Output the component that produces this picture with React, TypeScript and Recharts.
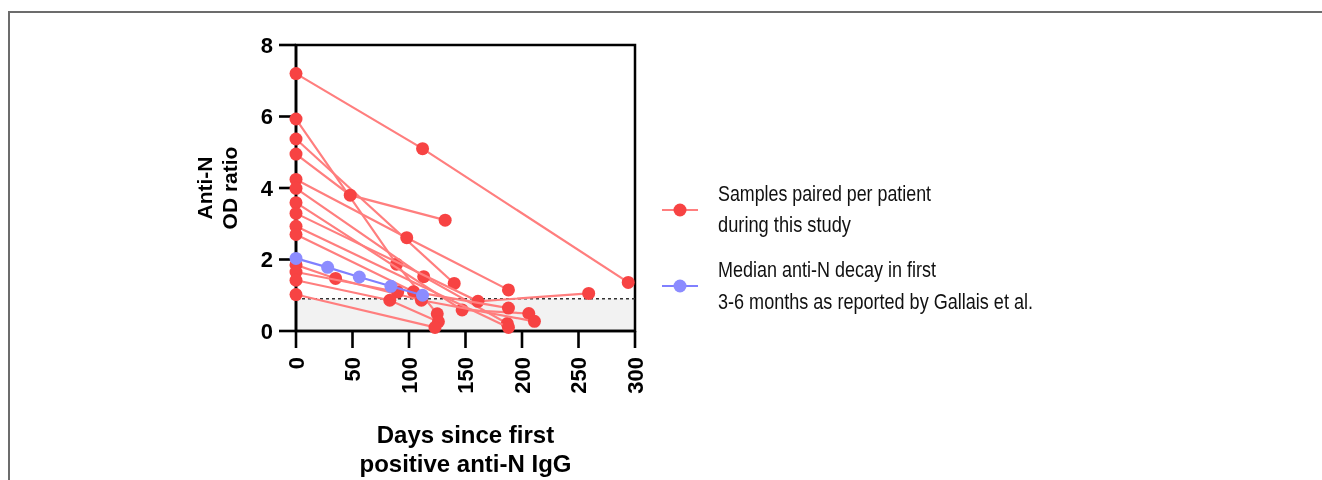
import React from 'react';
import { ComposedChart, Scatter, XAxis, YAxis, ReferenceArea, ReferenceLine, Legend } from 'recharts';

// ---- data ----
const xTicks = [0, 50, 100, 150, 200, 250, 300];
const yTicks = [0, 2, 4, 6, 8];
const cutoffOD = 0.9;

// days since first positive anti-N IgG, per patient
const patientDays = [
  [0, 112, 294],
  [0, 89, 125],
  [0, 140],
  [0, 48, 132],
  [0, 98, 188],
  [0, 113, 187],
  [0, 147, 206],
  [0, 161, 259],
  [0, 188],
  [0, 104, 188],
  [0, 35, 111, 211],
  [0, 90],
  [0, 83, 126],
  [0, 123],
];
// anti-N OD ratio, per patient
const patientOD = [
  [7.2, 5.1, 1.36],
  [5.93, 1.87, 0.48],
  [5.37, 1.33],
  [4.95, 3.8, 3.1],
  [4.24, 2.61, 1.15],
  [3.99, 1.52, 0.21],
  [3.59, 0.59, 0.49],
  [3.29, 0.83, 1.05],
  [2.93, 0.1],
  [2.7, 1.1, 0.64],
  [1.85, 1.47, 0.86, 0.27],
  [1.65, 1.09],
  [1.42, 0.86, 0.26],
  [1.02, 0.1],
];

const gallaisDays = [0, 28, 56, 84, 112];
const gallaisMedian = [2.03, 1.78, 1.51, 1.25, 1.0];

const legendLabels = [
  ['Samples paired per patient', 'during this study'],
  ['Median anti-N decay in first', '3-6 months as reported by Gallais et al.'],
];

// ---- style ----
const RED_DOT = '#f74343';
const RED_LINE = '#ff7e7e';
const BLUE_DOT = '#8c8cff';
const BLUE_LINE = '#8080ff';
const FONT = 'Arial, "Liberation Sans", Helvetica, sans-serif';
const legendTextWidths = [[213, 133], [218, 315]];

const patientSeries = patientDays.map((days, i) =>
  days.map((d, j) => ({ day: d, od: patientOD[i][j] }))
);
const gallaisSeries = gallaisDays.map((d, i) => ({ day: d, od: gallaisMedian[i] }));

const dot = (fill: string) => (props: any) => (
  <circle cx={props.cx} cy={props.cy} r={6.5} fill={fill} />
);

const YTick = (props: any) => {
  const { x, y, payload } = props;
  return (
    <text x={x} y={y} textAnchor="end" dominantBaseline="central"
      fontFamily={FONT} fontWeight="bold" fontSize={22} fill="#000">
      {payload.value}
    </text>
  );
};

const XTick = (props: any) => {
  const { x, y, payload } = props;
  return (
    <text x={x} y={y} textAnchor="end" dominantBaseline="central"
      transform={`rotate(-90, ${x}, ${y})`}
      fontFamily={FONT} fontWeight="bold" fontSize={22} fill="#000">
      {payload.value}
    </text>
  );
};

const XTitle = (props: any) => {
  const vb = props.viewBox || { x: 0, y: 0, width: 0 };
  const cx = vb.x + vb.width / 2;
  return (
    <g>
      <text x={cx} y={vb.y + 112} textAnchor="middle" fontFamily={FONT}
        fontWeight="bold" fontSize={24} fill="#000">Days since first</text>
      <text x={cx} y={vb.y + 141} textAnchor="middle" fontFamily={FONT}
        fontWeight="bold" fontSize={24} fill="#000">positive anti-N IgG</text>
    </g>
  );
};

const YTitle = (props: any) => {
  const vb = props.viewBox || { x: 0, y: 0, height: 0 };
  const cy = vb.y + vb.height / 2;
  const x1 = 194;
  const x2 = 219;
  return (
    <g>
      <text x={x1} y={cy} textAnchor="middle" dominantBaseline="central"
        transform={`rotate(-90, ${x1}, ${cy})`} fontFamily={FONT}
        fontWeight="bold" fontSize={21} fill="#000">Anti-N</text>
      <text x={x2} y={cy} textAnchor="middle" dominantBaseline="central"
        transform={`rotate(-90, ${x2}, ${cy})`} fontFamily={FONT}
        fontWeight="bold" fontSize={21} fill="#000">OD ratio</text>
    </g>
  );
};

const LegendContent = () => {
  const items = [
    { line: RED_LINE, dot: RED_DOT, y: 40, b1: 31, b2: 62 },
    { line: BLUE_LINE, dot: BLUE_DOT, y: 116, b1: 107, b2: 139 },
  ];
  return (
    <svg width={680} height={160} style={{ display: 'block', overflow: 'visible' }}>
      {items.map((it, i) => (
        <g key={i}>
          <line x1={22} x2={58} y1={it.y} y2={it.y} stroke={it.line} strokeWidth={2.2} />
          <circle cx={40} cy={it.y} r={6.5} fill={it.dot} />
          <text x={78} y={it.b1} fontFamily={FONT} fontSize={22} fill="#111"
            textLength={legendTextWidths[i][0]} lengthAdjust="spacingAndGlyphs">
            {legendLabels[i][0]}
          </text>
          <text x={78} y={it.b2} fontFamily={FONT} fontSize={22} fill="#111"
            textLength={legendTextWidths[i][1]} lengthAdjust="spacingAndGlyphs">
            {legendLabels[i][1]}
          </text>
        </g>
      ))}
    </svg>
  );
};

export default function App() {
  return (
    <div style={{
      position: 'fixed', top: 11, left: 8, right: 0, bottom: 0,
      borderTop: '2px solid #6c6c6c', borderLeft: '2px solid #6c6c6c', overflow: 'hidden',
    }}>
      <ComposedChart width={1300} height={465}
        margin={{ top: 32, right: 675, bottom: 87, left: 226 }}>
        <XAxis dataKey="day" type="number" domain={[0, 300]} ticks={xTicks}
          interval={0} height={60}
          axisLine={{ stroke: '#000', strokeWidth: 2.6 }}
          tickLine={{ stroke: '#000', strokeWidth: 2.6 }}
          tickSize={17} tickMargin={9} tick={<XTick />}
          label={<XTitle />} />
        <YAxis dataKey="od" type="number" domain={[0, 8]} ticks={yTicks}
          interval={0} width={60}
          axisLine={{ stroke: '#000', strokeWidth: 2.6 }}
          tickLine={{ stroke: '#000', strokeWidth: 2.6 }}
          tickSize={17} tickMargin={6} tick={<YTick />}
          label={<YTitle />} />
        <ReferenceArea x1={0} x2={300} y1={0} y2={cutoffOD} fill="#f2f2f2"
          fillOpacity={1} stroke="none" />
        <ReferenceLine y={cutoffOD} stroke="#333" strokeWidth={1.5} strokeDasharray="3 3" />
        <ReferenceArea x1={0} x2={300} y1={0} y2={8} fill="none" fillOpacity={0}
          stroke="#000" strokeWidth={2.5} />
        {patientSeries.map((s, i) => (
          <Scatter key={i} name={`patient${i}`} data={s} dataKey="od"
            line={{ stroke: RED_LINE, strokeWidth: 2.2 }} lineType="joint"
            shape={dot(RED_DOT)} isAnimationActive={false} legendType="none" />
        ))}
        <Scatter name="gallais" data={gallaisSeries} dataKey="od"
          line={{ stroke: BLUE_LINE, strokeWidth: 2.2 }} lineType="joint"
          shape={dot(BLUE_DOT)} isAnimationActive={false} legendType="none" />
        <Legend layout="horizontal" verticalAlign="middle" align="center"
          content={<LegendContent />}
          wrapperStyle={{ top: 157, left: 630, width: 680, height: 160 }} />
      </ComposedChart>
    </div>
  );
}
